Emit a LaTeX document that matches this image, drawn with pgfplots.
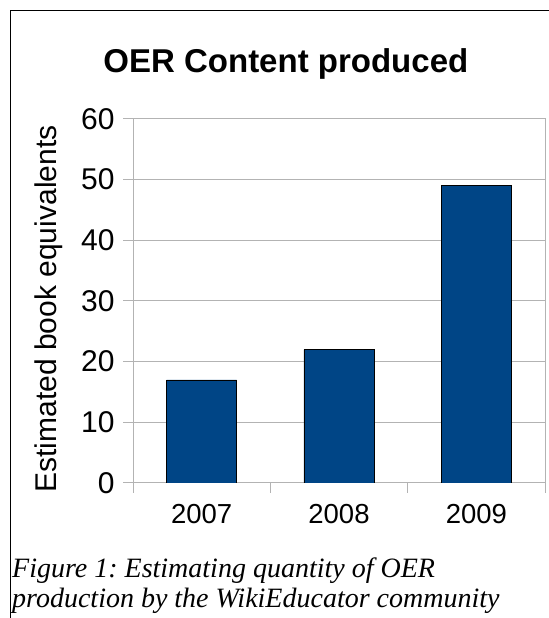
\documentclass[border=0pt]{standalone}
\usepackage{fontspec}
\setmainfont{Liberation Serif}
\newfontfamily\arial{Liberation Sans}
\usepackage{pgfplots}
\pgfplotsset{compat=1.18}
\definecolor{barblue}{HTML}{004586}
\definecolor{gridgray}{HTML}{B3B3B3}
\frenchspacing
\begin{document}
\begin{tikzpicture}[x=1bp,y=1bp]
\path[use as bounding box] (0,0) rectangle (549,618);
\draw[black, line width=1bp] (10.5,0) -- (10.5,607.5) -- (549,607.5);
\begin{axis}[
  at={(133bp,135bp)}, anchor=south west,
  scale only axis, width=412bp, height=364bp,
  xmin=-0.5, xmax=2.5, ymin=0, ymax=60,
  ytick={0,10,...,60},
  xtick={-0.5,0.5,1.5,2.5},
  xticklabels={2007,2008,2009},
  x tick label as interval,
  ymajorgrids, grid style={gridgray, line width=1bp},
  axis line style={gridgray, line width=1bp},
  tick style={gridgray, line width=1bp},
  tick align=outside, major tick length=10bp,
  tick pos=left,
  /pgf/number format/assume math mode=true,
  yticklabel style={font=\arial\fontsize{30bp}{30bp}\selectfont, text=black, xshift=-5bp},
  xticklabel style={font=\arial\fontsize{27.5bp}{27.5bp}\selectfont, text=black, yshift=-8bp},
  ylabel={Estimated book equivalents},
  ylabel style={at={(axis description cs:-0.1845,0.478)}, anchor=base, font=\arial\fontsize{30bp}{30bp}\selectfont},
  title={OER Content produced},
  title style={at={(axis description cs:0.371,1.11)}, anchor=base, font=\arial\bfseries\fontsize{33bp}{33bp}\selectfont},
]
\addplot[ybar, bar width=0.51, fill=barblue, draw=black, line width=0.7bp]
  coordinates {(0,17) (1,22) (2,49)};
\end{axis}
\node[anchor=base west, font=\itshape\fontsize{28bp}{30bp}\selectfont, inner sep=0pt] at (12,40) {Figure 1: Estimating quantity of OER};
\node[anchor=base west, font=\itshape\fontsize{28bp}{30bp}\selectfont, inner sep=0pt] at (12,10) {production by the WikiEducator community};
\end{tikzpicture}
\end{document}
